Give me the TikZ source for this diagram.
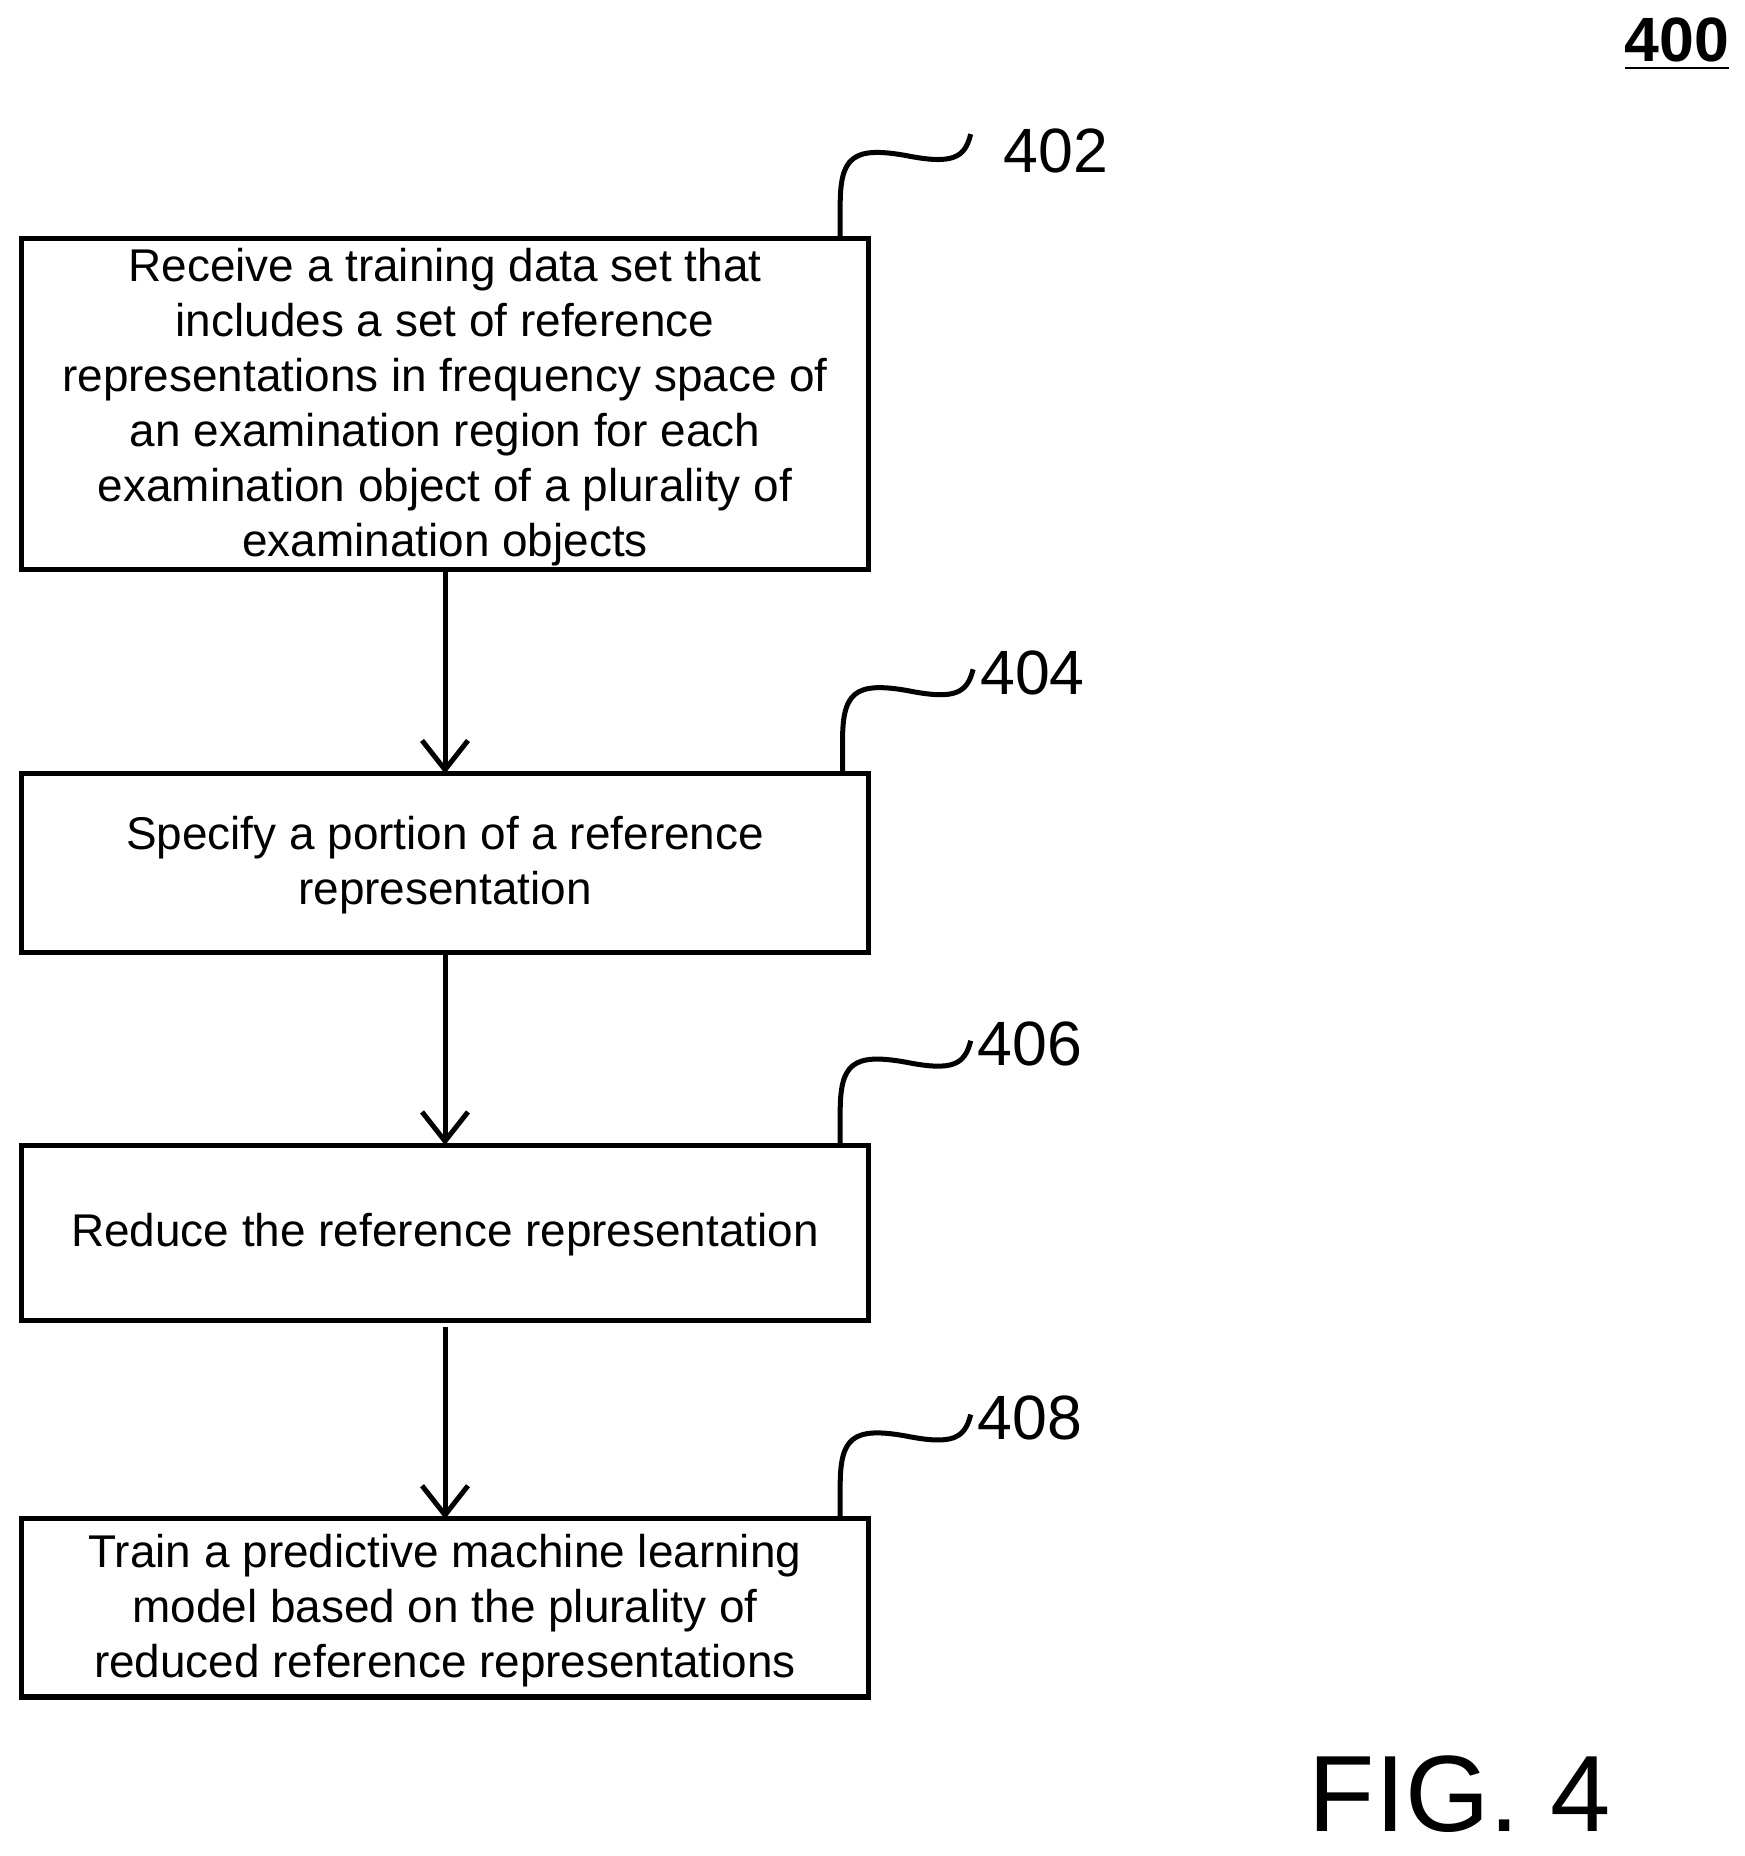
\documentclass[tikz,border=0pt]{standalone}
\usepackage{fontspec}
\setmainfont{Liberation Sans}
\usetikzlibrary{arrows.meta}
\begin{document}
\begin{tikzpicture}[x=0.01cm,y=-0.01cm,
 txt/.style={align=center,font=\fontsize{11}{13.2}\selectfont},
 arr/.style={line width=1.2pt,-{Straight Barb[length=7pt,width=11pt,line width=1.2pt]}},
 sq/.style={line width=1.2pt},
 lab/.style={font=\fontsize{15}{18}\selectfont}]
\useasboundingbox (0,0) rectangle (1470,1564);
\draw[line width=1.2pt] (18,201) rectangle (732,480);
\node[txt] (t1) at (375,343) {Receive a training data set that\\includes a set of reference\\representations in frequency space of\\an examination region for each\\examination object of a plurality of\\examination objects};
\draw[line width=1.2pt] (18,652) rectangle (732,803);
\node[txt] (t2) at (375,729) {Specify a portion of a reference\\representation};
\draw[line width=1.2pt] (18,965) rectangle (732,1113);
\node[txt] (t3) at (375,1040) {Reduce the reference representation};
\draw[line width=1.2pt] (18,1280) rectangle (732,1430);
\node[txt] (t4) at (375,1357) {Train a predictive machine learning\\model based on the plurality of\\reduced reference representations};
\coordinate (a1) at (375,480); \coordinate (a1e) at (375,652);
\coordinate (a2) at (375,803); \coordinate (a2e) at (375,965);
\coordinate (a3) at (375,1118); \coordinate (a3e) at (375,1280);
\draw[arr] (a1) -- (a1e);
\draw[arr] (a2) -- (a2e);
\draw[arr] (a3) -- (a3e);
\foreach \y/\x/\n/\lx/\ly in {201/708/402/890/127, 652/710/404/870/567, 965/708/406/868/880, 1280/708/408/868/1195}{
 \coordinate (s\n) at (\x,\y);
 \draw[sq] (s\n) -- ++(0,-28) .. controls +(0,-40) and +(-45,-8) .. ++(55,-42) .. controls +(40,8) and +(-5,20) .. ++(55,-18);
 \node[lab] (l\n) at (\lx,\ly) {\n};
}
\node[font=\bfseries\fontsize{15}{18}\selectfont] (n400) at (1413,37) {\underline{400}};
\node[font=\fontsize{26}{30}\selectfont] (fig) at (1230,1512) {FIG. 4};
\end{tikzpicture}
\end{document}
